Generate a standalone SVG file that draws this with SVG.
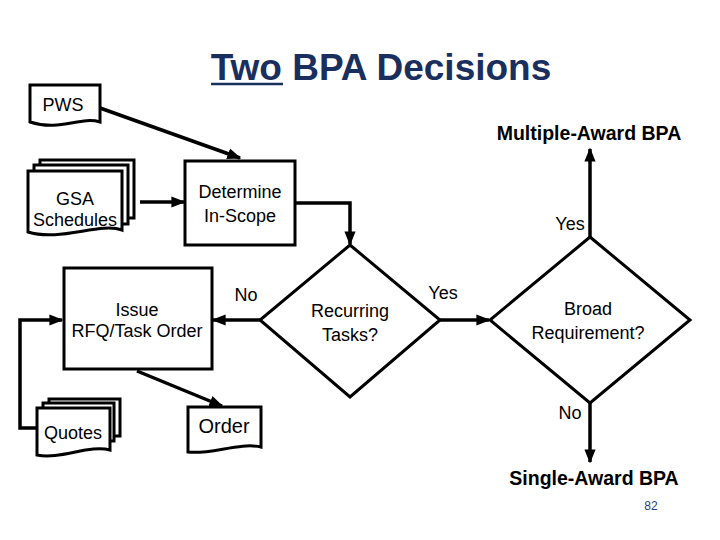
<svg xmlns="http://www.w3.org/2000/svg" width="720" height="540" viewBox="0 0 720 540">
<style>
.s{fill:#fff;stroke:#000;stroke-width:3}
.l{fill:none;stroke:#000;stroke-width:3.5}
text{font-family:"Liberation Sans",Arial,sans-serif;fill:#000;text-anchor:middle}
.t{font-size:18px}
.b{font-size:19.5px;font-weight:bold}
</style>
<defs>
<marker id="a" viewBox="0 0 10 10" refX="9" refY="5" markerWidth="4" markerHeight="4" orient="auto" markerUnits="strokeWidth"><path d="M0,1 L10,5 L0,9 z" fill="#000"/></marker>
</defs>
<rect width="720" height="540" fill="#fff"/>
<text x="381" y="80" font-size="37" font-weight="bold" style="fill:#1a2f5e">Two BPA Decisions</text>
<line x1="211" y1="84" x2="283" y2="84" stroke="#1a2f5e" stroke-width="2.5"/>
<g id="connectors">
<path class="l" d="M100,108 L240,158" marker-end="url(#a)"/>
<path class="l" d="M140,202 L184,202" marker-end="url(#a)"/>
<path class="l" d="M295,203 L350,203 L350,244" marker-end="url(#a)"/>
<path class="l" d="M260,320 L213,320" marker-end="url(#a)"/>
<path class="l" d="M440,320 L489,320" marker-end="url(#a)"/>
<path class="l" d="M590,237 L590,149" marker-end="url(#a)"/>
<path class="l" d="M590,403 L590,462" marker-end="url(#a)"/>
<path class="l" d="M137,371 L222,406" marker-end="url(#a)"/>
<path class="l" d="M37,428 L20,428 L20,320 L62,320" marker-end="url(#a)"/>
</g>
<g id="pws"><path class="s" d="M30,85 L100,85 L100,122 C80,116 60,132 30,122 Z"/><text class="t" x="63" y="111">PWS</text></g>
<g id="gsa">
<path class="s" d="M40,160 L134,160 L134,218 L40,218 Z"/>
<path class="s" d="M34,165 L128,165 L128,224 L34,224 Z"/>
<path class="s" d="M28,171 L122,171 L122,230 C100,222 60,242 28,232 Z"/>
<text class="t" x="75" y="205">GSA</text><text class="t" x="75" y="226">Schedules</text></g>
<g id="determine"><rect class="s" x="185" y="161" width="110" height="84"/><text class="t" x="240" y="198">Determine</text><text class="t" x="240" y="222">In-Scope</text></g>
<g id="recurring"><path class="s" d="M350,245 L440,320 L350,397 L260,320 Z"/><text class="t" x="350" y="317">Recurring</text><text class="t" x="350" y="341">Tasks?</text></g>
<g id="broad"><path class="s" d="M590,237 L690,320 L590,403 L490,320 Z"/><text class="t" x="588" y="315">Broad</text><text class="t" x="588" y="339">Requirement?</text></g>
<g id="issue"><rect class="s" x="64" y="268" width="148" height="101"/><text class="t" x="137" y="316">Issue</text><text class="t" x="137" y="337">RFQ/Task Order</text></g>
<g id="quotes">
<path class="s" d="M49,399 L120,399 L120,436 L49,436 Z"/>
<path class="s" d="M43,403 L114,403 L114,441 L43,441 Z"/>
<path class="s" d="M37,408 L110,408 L110,450 C90,444 60,460 37,455 Z"/>
<text class="t" x="73" y="439">Quotes</text></g>
<g id="order"><path class="s" d="M188,407 L261,407 L261,447 C240,442 210,455 188,452 Z"/><text x="224" y="433" font-size="20">Order</text></g>
<text class="t" x="246" y="301">No</text>
<text class="t" x="443" y="299">Yes</text>
<text class="t" x="570" y="230">Yes</text>
<text class="t" x="570" y="419">No</text>
<text class="b" x="589" y="140">Multiple-Award BPA</text>
<text class="b" x="594" y="485">Single-Award BPA</text>
<text x="651" y="510" font-size="12" style="fill:#1f3f7a">82</text>
</svg>
